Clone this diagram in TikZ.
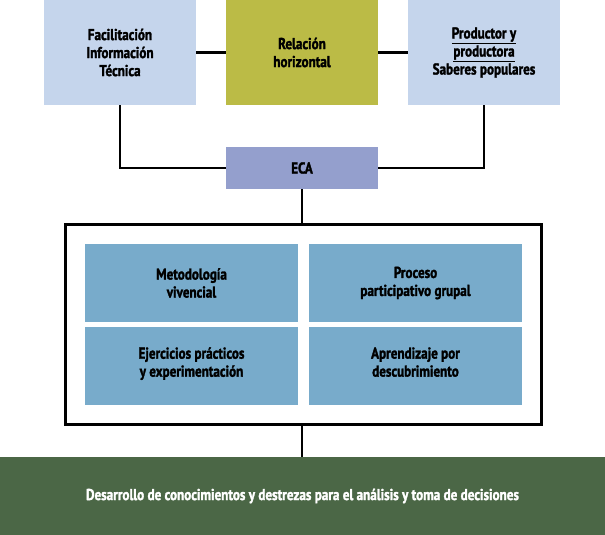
\documentclass[tikz,border=0pt]{standalone}
\usepackage{fontspec}
\setmainfont{PT Sans}[FakeStretch=0.83, BoldFeatures={FakeBold=1.8}]
\begin{document}
\begin{tikzpicture}[x=1pt,y=-1pt,
  box/.style={rectangle, inner sep=0pt, align=center, font=\bfseries\fontsize{15.8}{18}\selectfont},
  conn/.style={line width=2.2pt, black}]
\definecolor{paleblue}{HTML}{C5D5EC}
\definecolor{olive}{HTML}{BBBB46}
\definecolor{ecablue}{HTML}{949FCD}
\definecolor{steel}{HTML}{78ABCB}
\definecolor{darkgreen}{HTML}{4B6746}
\useasboundingbox (0,0) rectangle (605,535);

% top row
\node[box, fill=paleblue, minimum width=152pt, minimum height=105pt] (fac) at (120,52.5)
  {Facilitación\\Información\\Técnica};
\node[box, fill=olive, minimum width=152pt, minimum height=105pt] (rel) at (302,52.5)
  {Relación\\horizontal};
\node[box, fill=paleblue, minimum width=152pt, minimum height=105pt] (prod) at (484,52.5)
  {\underline{Productor y}\\\underline{productora}\\Saberes populares};

% ECA
\node[box, fill=ecablue, minimum width=152pt, minimum height=42pt] (eca) at (302,168) {ECA};

% frame with the four methods
\node[rectangle, draw, line width=2.4pt, minimum width=476pt, minimum height=200pt] (frame) at (303.5,324.5) {};
\node[box, fill=steel, minimum width=213pt, minimum height=78pt] (m1) at (191.5,283)
  {Metodología\\vivencial};
\node[box, fill=steel, minimum width=213pt, minimum height=78pt] (m2) at (415.5,283)
  {Proceso\\participativo grupal};
\node[box, fill=steel, minimum width=213pt, minimum height=78pt, text depth=8pt] (m3) at (191.5,366)
  {Ejercicios prácticos\\y experimentación};
\node[box, fill=steel, minimum width=213pt, minimum height=78pt, text depth=8pt] (m4) at (415.5,366)
  {Aprendizaje por\\descubrimiento};

% result bar
\node[box, fill=darkgreen, text=white, minimum width=605pt, minimum height=78pt] (res) at (302.5,496)
  {Desarrollo de conocimientos y destrezas para el análisis y toma de decisiones};

% connectors
\draw[conn] (fac.east) -- (rel.west);
\draw[conn] (rel.east) -- (prod.west);
\draw[conn] (fac.south) |- (eca.west);
\draw[conn] (prod.south) |- (eca.east);
\draw[conn] (eca.south) -- (eca.south |- frame.north);
\draw[conn] (eca.south |- frame.south) -- (eca.south |- res.north);
\end{tikzpicture}
\end{document}
